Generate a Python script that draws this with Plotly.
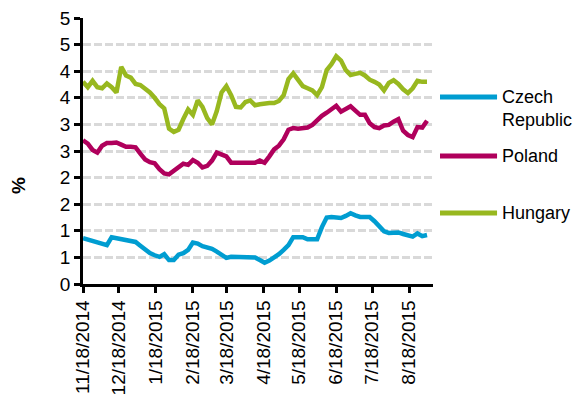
import pandas as pd
import plotly.graph_objects as go

# sample dates every 4 days, 11/18/2014 -> 9/2/2015
dates = pd.date_range("2014-11-18", periods=73, freq="4D")

czech = [0.86, 0.83, 0.80, 0.77, 0.74, 0.73, 0.88, 0.86, 0.86, 0.84,
         0.82, 0.79, 0.72, 0.64, 0.58, 0.54, 0.51, 0.56, 0.45, 0.45,
         0.55, 0.58, 0.64, 0.78, 0.76, 0.71, 0.69, 0.66, 0.61, 0.56,
         0.49, 0.51, 0.51, 0.51, 0.51, 0.51, 0.50, 0.45, 0.40, 0.44,
         0.49, 0.56, 0.64, 0.73, 0.88, 0.88, 0.88, 0.84, 0.83, 0.84,
         1.07, 1.25, 1.26, 1.24, 1.24, 1.28, 1.33, 1.29, 1.26, 1.26,
         1.26, 1.18, 1.08, 0.99, 0.96, 0.97, 0.97, 0.94, 0.92, 0.89,
         0.95, 0.90, 0.92]

poland = [2.70, 2.64, 2.52, 2.47, 2.60, 2.65, 2.65, 2.66, 2.62, 2.58,
          2.58, 2.57, 2.45, 2.34, 2.29, 2.27, 2.16, 2.08, 2.06, 2.12,
          2.20, 2.26, 2.24, 2.33, 2.28, 2.19, 2.22, 2.32, 2.47, 2.43,
          2.40, 2.28, 2.28, 2.29, 2.29, 2.28, 2.28, 2.32, 2.28, 2.40,
          2.53, 2.60, 2.72, 2.90, 2.93, 2.92, 2.93, 2.94, 2.99, 3.08,
          3.16, 3.22, 3.28, 3.35, 3.24, 3.30, 3.34, 3.26, 3.18, 3.18,
          3.02, 2.95, 2.93, 2.98, 2.99, 3.05, 3.10, 2.88, 2.80, 2.76,
          2.95, 2.94, 3.07]

hungary = [3.80, 3.70, 3.82, 3.70, 3.68, 3.77, 3.70, 3.60, 4.08, 3.92,
           3.88, 3.76, 3.74, 3.68, 3.60, 3.50, 3.38, 3.30, 2.92, 2.86,
           2.90, 3.10, 3.28, 3.18, 3.45, 3.33, 3.12, 3.00, 3.25, 3.60,
           3.72, 3.55, 3.33, 3.32, 3.42, 3.45, 3.36, 3.38, 3.40, 3.40,
           3.40, 3.44, 3.55, 3.85, 3.96, 3.84, 3.72, 3.68, 3.64, 3.55,
           3.70, 4.02, 4.13, 4.28, 4.20, 4.02, 3.93, 3.95, 3.97, 3.92,
           3.84, 3.80, 3.75, 3.64, 3.78, 3.83, 3.76, 3.66, 3.59, 3.68,
           3.82, 3.80, 3.80]

series_names = ["Czech<br>Republic", "Poland", "Hungary"]
series_colors = ["#009DD1", "#B0005C", "#98B81F"]

x_tickvals = ["2014-11-18", "2014-12-18", "2015-01-18", "2015-02-18", "2015-03-18",
              "2015-04-18", "2015-05-18", "2015-06-18", "2015-07-18", "2015-08-18"]
x_ticktext = ["11/18/2014", "12/18/2014", "1/18/2015", "2/18/2015", "3/18/2015",
              "4/18/2015", "5/18/2015", "6/18/2015", "7/18/2015", "8/18/2015"]
y_tickvals = [0, 0.5, 1, 1.5, 2, 2.5, 3, 3.5, 4, 4.5, 5]
y_ticktext = ["0", "1", "1", "2", "2", "3", "3", "4", "4", "5", "5"]

font = "Liberation Sans, Arial, sans-serif"

fig = go.Figure()
for vals, color in zip([czech, poland, hungary], series_colors):
    fig.add_trace(go.Scatter(x=dates, y=vals, mode="lines",
                             line=dict(color=color, width=4.5),
                             showlegend=False))

# hand-drawn legend on the right
legend_y = [0.703, 0.481, 0.267]
for name, color, ly in zip(series_names, series_colors, legend_y):
    fig.add_shape(type="line", xref="paper", yref="paper",
                  x0=1.02, x1=1.183, y0=ly, y1=ly,
                  line=dict(color=color, width=5))
    if "<br>" in name:
        fig.add_annotation(x=1.192, y=ly + 0.047, xref="paper", yref="paper",
                           text=name, showarrow=False, xanchor="left", yanchor="top",
                           align="left", font=dict(size=18, color="black", family=font))
    else:
        fig.add_annotation(x=1.192, y=ly, xref="paper", yref="paper",
                           text=name, showarrow=False, xanchor="left", yanchor="middle",
                           align="left", font=dict(size=18, color="black", family=font))

# y axis title sits a bit below the middle in the original
fig.add_annotation(x=-0.186, y=0.372, xref="paper", yref="paper",
                   text="<b>%</b>", showarrow=False, textangle=-90,
                   xanchor="center", yanchor="middle",
                   font=dict(size=19, color="black", family=font))

fig.update_layout(
    width=576, height=402,
    margin=dict(l=83, r=143, t=18, b=118, autoexpand=False),
    paper_bgcolor="white", plot_bgcolor="white",
    font=dict(family=font, size=18, color="black"),
)
fig.update_xaxes(
    range=["2014-11-18", "2015-09-07"],
    tickvals=x_tickvals, ticktext=x_ticktext, tickangle=-90,
    showgrid=False, zeroline=False,
    showline=True, linecolor="black", linewidth=2.5,
    ticks="outside", ticklen=6, tickwidth=2.5, tickcolor="black",
    tickfont=dict(size=19),
)
fig.update_yaxes(
    range=[0, 5],
    tickvals=y_tickvals, ticktext=y_ticktext,
    showgrid=True, gridcolor="#D9D9D9", gridwidth=2.5, griddash="8px,3px",
    zeroline=False,
    showline=True, linecolor="black", linewidth=2.5,
    ticks="outside", ticklen=6, tickwidth=2.5, tickcolor="black",
    tickfont=dict(size=19),
)

fig.write_html("out.html", config={"displayModeBar": False},
               post_script="document.body.style.margin='0';")
